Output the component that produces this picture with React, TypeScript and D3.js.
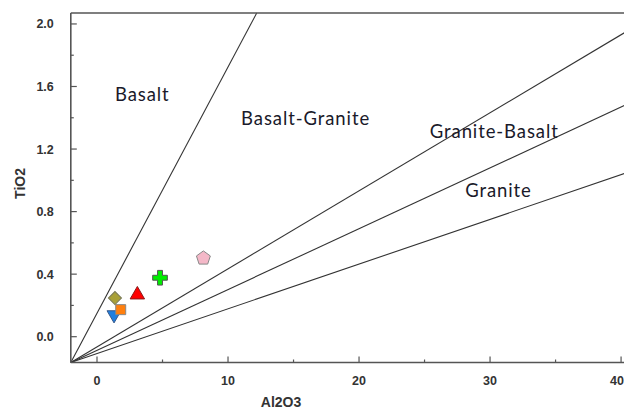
import React from "react";
import * as d3 from "d3";

const W = 624;
const H = 412;

// Axis domains
const xDomain: [number, number] = [-2, 40.3];
const yDomain: [number, number] = [-0.165, 2.07];

const xMajorTicks = [0, 10, 20, 30, 40];
const xMinorTicks = [5, 15, 25, 35];
const yMajorTicks = [0.0, 0.4, 0.8, 1.2, 1.6, 2.0];
const yMinorTicks = [0.2, 0.6, 1.0, 1.4, 1.8];

// Discrimination lines: end points (start at the lower-left corner)
const lineEndX = [12.19, 40.3, 40.3, 40.3];
const lineEndY = [2.07, 1.946, 1.48, 1.045];

// Field labels
const fieldNames = ["Basalt", "Basalt-Granite", "Granite-Basalt", "Granite"];
const fieldX = [1.37, 11.0, 25.4, 28.1];
const fieldY = [1.508, 1.355, 1.27, 0.895];

// Samples
const sampleShapes = ["triangleDown", "square", "diamond", "triangle", "cross", "pentagon"];
const sampleAl2O3 = [1.3, 1.81, 1.37, 3.08, 4.81, 8.12];
const sampleTiO2 = [0.14, 0.173, 0.247, 0.268, 0.377, 0.502];
const sampleFill = ["#1f7fe0", "#ff7f0e", "#a8a038", "#ff0000", "#00ee00", "#f4b8c8"];
const sampleStroke = ["#3a5a8a", "#888888", "#777755", "#8a1a1a", "#555555", "#888888"];

const margin = { left: 70.8, right: 0, top: 13, bottom: 50 };

export default function App() {
  const x = d3.scaleLinear().domain(xDomain).range([margin.left, 625]);
  const y = d3.scaleLinear().domain(yDomain).range([362.5, margin.top]);

  const x0 = x(xDomain[0]);
  const y0 = y(yDomain[0]);

  const symbolPath = (shape: string) => {
    let type: d3.SymbolType = d3.symbolSquare;
    let size = 90;
    let rot = 0;
    switch (shape) {
      case "triangleDown":
        type = d3.symbolTriangle;
        size = 85;
        rot = 180;
        break;
      case "square":
        type = d3.symbolSquare;
        size = 100;
        break;
      case "diamond":
        type = d3.symbolSquare;
        size = 85;
        rot = 45;
        break;
      case "triangle":
        type = d3.symbolTriangle;
        size = 90;
        break;
      case "cross":
        type = d3.symbolCross;
        size = 120;
        break;
    }
    if (shape === "pentagon") {
      const r = 7.3;
      const pts = d3.range(5).map((i) => {
        const a = -Math.PI / 2 + (i * 2 * Math.PI) / 5;
        return [r * Math.cos(a), r * Math.sin(a)];
      });
      return { d: "M" + pts.map((p) => p.join(",")).join("L") + "Z", rot: 0 };
    }
    return { d: d3.symbol().type(type).size(size)() as string, rot };
  };

  const tickFont = "'Liberation Sans', Arial, sans-serif";
  const labelFont = "Lato, 'Open Sans', sans-serif";

  return (
    <svg width={W} height={H} style={{ position: "absolute", left: 0, top: 0, background: "#fff" }}>
      {/* discrimination lines */}
      {lineEndX.map((ex, i) => (
        <line
          key={"l" + i}
          x1={x0}
          y1={y0}
          x2={x(ex)}
          y2={y(lineEndY[i])}
          stroke="#333"
          strokeWidth={1.1}
        />
      ))}

      {/* axes frame */}
      <line x1={x0} y1={y0} x2={W} y2={y0} stroke="#555" strokeWidth={1.6} />
      <line x1={x0} y1={y0} x2={x0} y2={y(yDomain[1])} stroke="#555" strokeWidth={1.6} />
      <line x1={x0} y1={y(yDomain[1])} x2={W} y2={y(yDomain[1])} stroke="#555" strokeWidth={1.6} />

      {/* x ticks */}
      {xMajorTicks.map((t) => (
        <g key={"xt" + t}>
          <line x1={x(t)} x2={x(t)} y1={y0} y2={y0 - 6} stroke="#555" strokeWidth={1.2} />
          <text
            x={Math.min(x(t), 617)}
            y={y0 + 22}
            textAnchor="middle"
            fontFamily={tickFont}
            fontWeight="bold"
            fontSize={12.5}
            fill="#333"
          >
            {t}
          </text>
        </g>
      ))}
      {xMinorTicks.map((t) => (
        <line key={"xm" + t} x1={x(t)} x2={x(t)} y1={y0} y2={y0 - 3} stroke="#555" strokeWidth={1.2} />
      ))}

      {/* y ticks */}
      {yMajorTicks.map((t) => (
        <g key={"yt" + t}>
          <line x1={x0} x2={x0 + 6} y1={y(t)} y2={y(t)} stroke="#555" strokeWidth={1.2} />
          <text
            x={x0 - 17}
            y={y(t) + 4.5}
            textAnchor="end"
            fontFamily={tickFont}
            fontWeight="bold"
            fontSize={12.5}
            fill="#333"
          >
            {t.toFixed(1)}
          </text>
        </g>
      ))}
      {yMinorTicks.map((t) => (
        <line key={"ym" + t} x1={x0} x2={x0 + 3} y1={y(t)} y2={y(t)} stroke="#555" strokeWidth={1.2} />
      ))}

      {/* axis titles */}
      <text
        x={281}
        y={407}
        textAnchor="middle"
        fontFamily={tickFont}
        fontWeight="bold"
        fontSize={14}
        fill="#333"
      >
        Al2O3
      </text>
      <text
        transform={`translate(25, ${y(0.98)}) rotate(-90)`}
        textAnchor="middle"
        fontFamily={tickFont}
        fontWeight="bold"
        fontSize={14}
        fill="#333"
      >
        TiO2
      </text>

      {/* field labels */}
      {fieldNames.map((n, i) => (
        <text
          key={n}
          x={x(fieldX[i])}
          y={y(fieldY[i])}
          fontFamily={labelFont}
          fontSize={18.5}
          letterSpacing={0.9}
          fill="#1a1a2a"
        >
          {n}
        </text>
      ))}

      {/* samples */}
      {sampleShapes.map((s, i) => {
        const sp = symbolPath(s);
        return (
          <path
            key={"s" + i}
            d={sp.d}
            transform={`translate(${x(sampleAl2O3[i])}, ${y(sampleTiO2[i])}) rotate(${sp.rot})`}
            fill={sampleFill[i]}
            stroke={sampleStroke[i]}
            strokeWidth={1}
          />
        );
      })}
    </svg>
  );
}
